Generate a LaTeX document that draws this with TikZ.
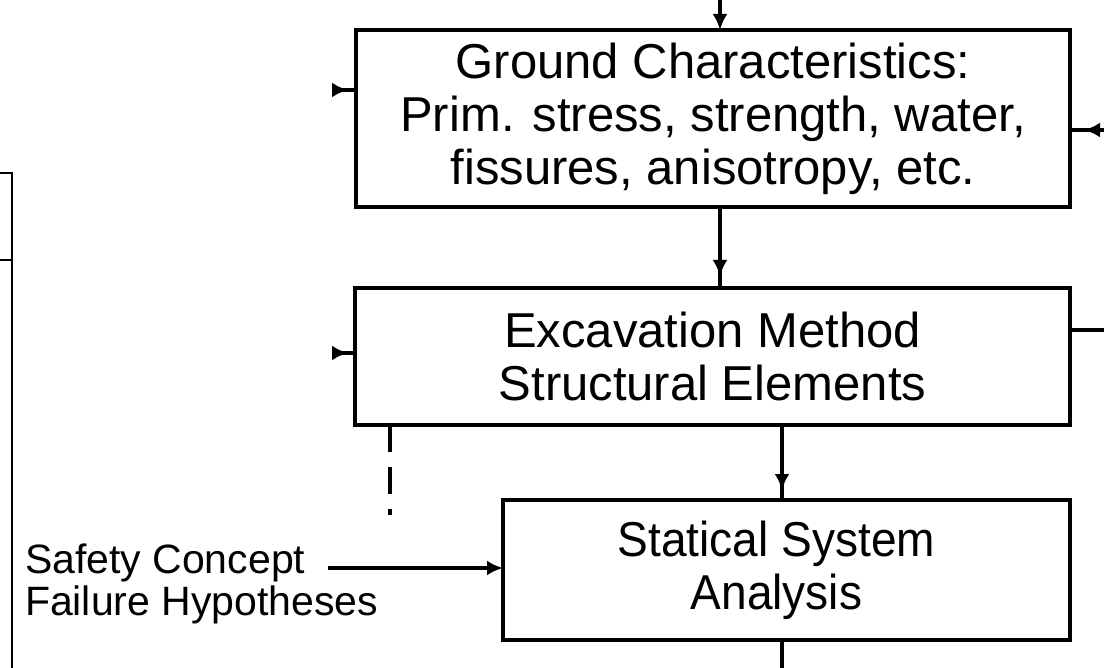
\documentclass[tikz,border=0pt]{standalone}
\usepackage{fontspec}
\setmainfont{Liberation Sans}
\newfontfamily\narrowsans[FakeStretch=0.94]{Liberation Sans}
\usetikzlibrary{arrows.meta,decorations.markings}
\begin{document}
\begin{tikzpicture}[x=1pt,y=-1pt,
  every node/.style={inner sep=0pt,outer sep=0pt},
  boxnode/.style={draw,line width=4pt,align=center,
    font=\fontsize{49}{53}\selectfont},
  conn/.style={line width=3.5pt},
  thinline/.style={line width=2.4pt},
  headtip/.style={-{Latex[length=16pt,width=15pt]}},
  midhead/.style={postaction={decorate},decoration={markings,
    mark=at position #1 with {\arrow{Latex[length=16pt,width=15pt]}}}},
  lbl/.style={align=left,font=\fontsize{41}{42}\selectfont}]
\useasboundingbox (0,0) rectangle (1104,668);

% boxes
\node[boxnode,minimum width=714pt,minimum height=177pt] (ground) at (713,118.5)
  {Ground Characteristics:\\Prim. stress, strength, water,\\fissures, anisotropy, etc.};
\node[boxnode,minimum width=715pt,minimum height=137pt] (exc) at (712.5,356.5)
  {Excavation Method\\Structural Elements};
\node[boxnode,minimum width=567pt,minimum height=140pt] (stat) at (786.5,570)
  {\narrowsans\hspace*{-20pt}Statical System\\\narrowsans\hspace*{-20pt}Analysis};

% label
\node[lbl,anchor=base west] (safety) at (25,615)
  {Safety Concept\\Failure Hypotheses};

% coordinates for free ends
\coordinate (topin) at (720,0);
\coordinate (colB) at (782,0);
\coordinate (botout) at (782,668);
\coordinate (lin1) at (332,90);
\coordinate (lin2) at (332,353);
\coordinate (rin1) at (1104,130);
\coordinate (rout2) at (1104,330);
\coordinate (safeend) at (328,568);
\coordinate (dashend) at (390,515);
\coordinate (dashtop) at (390,0);

% connectors
\draw[conn,headtip] (topin) -- (topin |- ground.north);
\draw[conn,midhead=-12pt] (topin |- ground.south) -- (topin |- exc.north);
\draw[conn,midhead=-10pt] (colB |- exc.south) -- (colB |- stat.north);
\draw[conn] (colB |- stat.south) -- (botout);
\draw[conn,{Latex[reversed,length=16pt,width=15pt]}-] (lin1) -- (ground.west |- lin1);
\draw[conn,{Latex[reversed,length=16pt,width=15pt]}-] (lin2) -- (exc.west |- lin2);
\draw[conn,midhead=-14pt] (rin1) -- (ground.east |- rin1);
\draw[conn] (exc.east |- rout2) -- (rout2);
\draw[conn,headtip] (safeend) -- (stat.west |- safeend);
\draw[conn,dash pattern=on 27pt off 15pt] (dashtop |- exc.south) -- (dashend);

% partial box at left edge
\draw[thinline] (0,173) -- (12,173) -- (12,668);
\draw[thinline] (0,260) -- (12,260);
\end{tikzpicture}
\end{document}
